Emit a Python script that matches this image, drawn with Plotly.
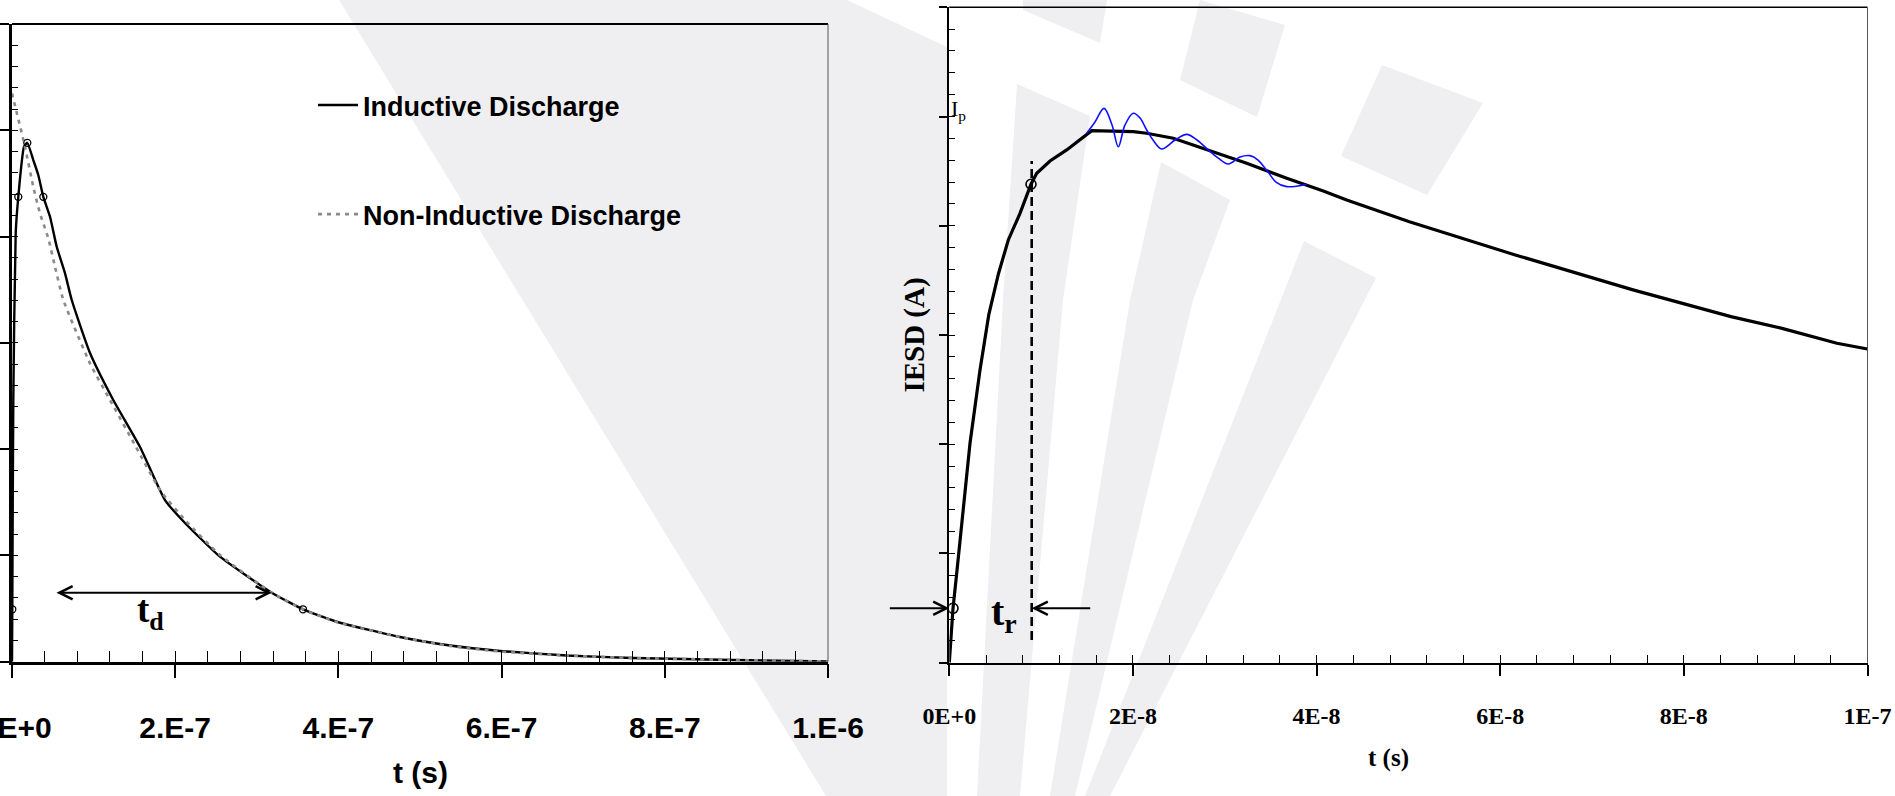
import plotly.graph_objects as go

FIG_W, FIG_H = 1895, 796

# ---------------- Left panel: inductive vs non-inductive discharge ----------------
# time in units of 1e-7 s, current in arbitrary axis units (0..6)
ind_t_e7 = [0, 0.0037, 0.0159, 0.0453, 0.0772, 0.147, 0.1875, 0.261, 0.322, 0.384,
            0.466, 0.548, 0.650, 0.732, 0.956, 1.241, 1.569, 1.875, 2.120, 2.549,
            3.183, 3.566, 3.979, 4.755, 5.368, 5.980, 6.798, 7.610, 8.836, 10.0]
ind_i = [0, 0.493, 2.462, 4.033, 4.374, 4.845, 4.882, 4.720, 4.579, 4.374,
         4.186, 3.904, 3.654, 3.403, 2.904, 2.462, 2.020, 1.521, 1.305, 0.988,
         0.649, 0.493, 0.376, 0.232, 0.152, 0.101, 0.058, 0.035, 0.016, 0.002]

non_t_e7 = [0, 0.159, 0.261, 0.343, 0.445, 0.527, 0.629, 0.956, 1.201, 1.520, 1.814,
            2.120, 2.549, 3.183, 3.566, 3.979, 4.755, 5.368, 5.980, 6.798, 7.610,
            8.836, 10.0]
non_i = [5.347, 4.845, 4.468, 4.218, 3.983, 3.716, 3.403, 2.807, 2.462, 2.020, 1.615,
         1.333, 1.004, 0.649, 0.493, 0.373, 0.232, 0.148, 0.096, 0.058, 0.035,
         0.016, 0.002]

ind_mark_t_e7 = [0.0037, 0.0772, 0.1875, 0.384, 3.566]
ind_mark_i = [0.493, 4.374, 4.882, 4.374, 0.493]

td_span_e7 = [0.527, 3.183]     # t_d arrow: start, end
td_level = 0.649
td_label_t_e7 = 1.70
td_label_i = 0.46

left_tickvals = [0, 2e-7, 4e-7, 6e-7, 8e-7, 1e-6]
left_ticktext = ["0.E+0", "2.E-7", "4.E-7", "6.E-7", "8.E-7", "1.E-6"]

# ---------------- Right panel: ESD current waveform ----------------
# time in units of 1e-8 s
esd_t_e8 = [0, 0.0261, 0.0403, 0.0806, 0.2254, 0.3344, 0.4302, 0.5347, 0.6426, 0.770,
            0.8898, 0.952, 1.0967, 1.2786, 1.5509, 2.0039, 2.1499, 2.4396, 2.8752,
            3.2390, 3.6746, 4.0732, 4.328, 5.011, 6.164, 7.446, 8.513, 9.069, 9.667, 10.0]
esd_i = [0, 0.269, 0.498, 0.818, 2.009, 2.680, 3.186, 3.559, 3.870, 4.114,
         4.380, 4.480, 4.593, 4.694, 4.870, 4.861, 4.847, 4.801, 4.678,
         4.572, 4.435, 4.318, 4.235, 4.037, 3.733, 3.413, 3.168, 3.061, 2.924, 2.872]

ring_t_e8 = [1.4964, 1.5868, 1.6848, 1.7720, 1.8406, 1.9135, 2.0039, 2.0769, 2.1499,
             2.2185, 2.3132, 2.4581, 2.5855, 2.6977, 2.8208, 2.9264, 3.0386, 3.1660,
             3.2749, 3.3620, 3.4709, 3.5580, 3.6746, 3.8924]
ring_i = [4.847, 4.950, 5.075, 4.923, 4.724, 4.923, 5.030, 4.987, 4.877,
          4.785, 4.703, 4.785, 4.837, 4.785, 4.694, 4.621, 4.566, 4.630,
          4.642, 4.602, 4.492, 4.400, 4.358, 4.380]

tr_mark_t_e8 = [0.0403, 0.8898]
tr_mark_i = [0.498, 4.380]
tr_line_t_e8 = 0.8974
tr_line_i = [0.208, 4.593]
tr_arrow_left_e8 = [-0.664, 0.0]      # tail, head
tr_arrow_right_e8 = [1.551, 0.8974]   # tail, head
tr_level = 0.498
tr_label_t_e8 = 0.60
tr_label_i = 0.45
ip_level = 5.06

right_tickvals = [0, 2e-8, 4e-8, 6e-8, 8e-8, 1e-7]
right_ticktext = ["0E+0", "2E-8", "4E-8", "6E-8", "8E-8", "1E-7"]

# ---------------- styling / layout helpers ----------------
SANS = "Liberation Sans, Arial, sans-serif"
SERIF = "Liberation Serif, Times New Roman, DejaVu Serif, serif"
WM_COLOR = "rgb(239,239,242)"


def px_x(p):
    return p / FIG_W


def px_y(p):
    return 1 - p / FIG_H


L_dom_x = [px_x(12), px_x(828)]
L_dom_y = [px_y(661.7), px_y(24)]
R_dom_x = [px_x(949.3), px_x(1867.5)]
R_dom_y = [px_y(662.7), px_y(7.3)]

fig = go.Figure()

# left panel curves
fig.add_trace(go.Scatter(x=[t * 1e-7 for t in ind_t_e7], y=ind_i, mode="lines",
                         name="Inductive Discharge", legendgroup="a", legendrank=1,
                         line=dict(color="black", width=2.4, shape="spline", smoothing=0.5),
                         xaxis="x", yaxis="y"))
fig.add_trace(go.Scatter(x=[t * 1e-7 for t in non_t_e7], y=non_i, mode="lines",
                         name="Non-Inductive Discharge", legendgroup="b", legendrank=2,
                         line=dict(color="#8a8a8a", width=2.6, dash="4px,5px",
                                   shape="spline", smoothing=0.5),
                         xaxis="x", yaxis="y"))
fig.add_trace(go.Scatter(x=[t * 1e-7 for t in ind_mark_t_e7], y=ind_mark_i, mode="markers",
                         showlegend=False,
                         marker=dict(symbol="circle-open", size=7, color="black",
                                     line=dict(width=1.3)),
                         xaxis="x", yaxis="y"))

# right panel curves
fig.add_trace(go.Scatter(x=[t * 1e-8 for t in esd_t_e8], y=esd_i, mode="lines",
                         showlegend=False, line=dict(color="black", width=3.2),
                         xaxis="x2", yaxis="y2"))
fig.add_trace(go.Scatter(x=[t * 1e-8 for t in ring_t_e8], y=ring_i, mode="lines",
                         showlegend=False,
                         line=dict(color="#1010ff", width=1.6, shape="spline", smoothing=1.0),
                         xaxis="x2", yaxis="y2"))
fig.add_trace(go.Scatter(x=[t * 1e-8 for t in tr_mark_t_e8], y=tr_mark_i, mode="markers",
                         showlegend=False,
                         marker=dict(symbol="circle-open", size=10, color="black",
                                     line=dict(width=1.6)),
                         xaxis="x2", yaxis="y2"))
fig.add_trace(go.Scatter(x=[tr_line_t_e8 * 1e-8] * 2, y=tr_line_i, mode="lines",
                         showlegend=False,
                         line=dict(color="black", width=2.6, dash="9px,5px"),
                         xaxis="x2", yaxis="y2"))

# empty traces so the overlay (inner tick) axes are drawn
for xa, ya in [("x3", "y"), ("x", "y3"), ("x4", "y2"), ("x2", "y4")]:
    fig.add_trace(go.Scatter(x=[None], y=[None], mode="lines", showlegend=False,
                             hoverinfo="skip", xaxis=xa, yaxis=ya))

axis_common = dict(showgrid=False, zeroline=False, showline=True, linecolor="black",
                   tickcolor="black", ticks="outside", ticklabeloverflow="allow")

layout = dict(
    width=FIG_W, height=FIG_H,
    margin=dict(l=0, r=0, t=0, b=0),
    paper_bgcolor="white", plot_bgcolor="rgba(0,0,0,0)",
    template="none",
    showlegend=True,
    legend=dict(x=px_x(313), y=px_y(81), xanchor="left", yanchor="top",
                bgcolor="rgba(0,0,0,0)", borderwidth=0, traceorder="grouped",
                tracegroupgap=71, itemwidth=40,
                font=dict(family=SANS, size=27, color="black", weight="bold")),
    xaxis=dict(axis_common, domain=L_dom_x, anchor="y", range=[0, 1e-6],
               tickmode="array", tickvals=left_tickvals, ticktext=left_ticktext,
               ticklen=14, tickwidth=1.5, linewidth=2.5,
               ticklabelstandoff=24,
               tickfont=dict(family=SANS, size=30, color="black", weight="bold")),
    xaxis3=dict(overlaying="x", anchor="y", range=[0, 1e-6], showgrid=False, zeroline=False,
                showline=False, tickmode="linear", tick0=0, dtick=4e-8, ticks="inside",
                ticklen=11, tickwidth=1.2, tickcolor="black", showticklabels=False),
    yaxis=dict(axis_common, domain=L_dom_y, anchor="x", range=[0, 6], tickmode="linear",
               tick0=0, dtick=1, ticklen=9, tickwidth=1.5, linewidth=2.5,
               showticklabels=False),
    yaxis3=dict(overlaying="y", anchor="x", side="left", range=[0, 6], showgrid=False,
                zeroline=False, showline=False, tickmode="linear", tick0=0, dtick=0.2,
                ticks="inside", ticklen=6, tickwidth=1.2, tickcolor="black",
                showticklabels=False),
    xaxis2=dict(axis_common, domain=R_dom_x, anchor="y2", range=[0, 1e-7],
                tickmode="array", tickvals=right_tickvals, ticktext=right_ticktext,
                ticklen=11, tickwidth=1.5, linewidth=2.2,
                ticklabelstandoff=19,
                tickfont=dict(family=SERIF, size=24, color="black", weight="bold")),
    xaxis4=dict(overlaying="x2", anchor="y2", range=[0, 1e-7], showgrid=False, zeroline=False,
                showline=False, tickmode="linear", tick0=0, dtick=4e-9, ticks="inside",
                ticklen=7.5, tickwidth=1.2, tickcolor="black", showticklabels=False),
    yaxis2=dict(axis_common, domain=R_dom_y, anchor="x2", range=[0, 6], tickmode="linear",
                tick0=0, dtick=1, ticklen=8, tickwidth=1.5, linewidth=2.2,
                showticklabels=False,
                title=dict(text="IESD (A)", standoff=6,
                           font=dict(family=SERIF, size=29, color="black", weight="bold"))),
    yaxis4=dict(overlaying="y2", anchor="x2", side="left", range=[0, 6], showgrid=False,
                zeroline=False, showline=False, tickmode="linear", tick0=0, dtick=0.2,
                ticks="inside", ticklen=5.5, tickwidth=1.2, tickcolor="black",
                showticklabels=False),
)
fig.update_layout(**layout)

# frame lines (top and right borders of both panels)
shapes = [
    dict(type="line", xref="x domain", yref="y domain", x0=0, x1=1, y0=1, y1=1,
         line=dict(color="black", width=2)),
    dict(type="line", xref="x domain", yref="y domain", x0=1, x1=1, y0=0, y1=1,
         line=dict(color="#555555", width=1)),
    dict(type="line", xref="x2 domain", yref="y2 domain", x0=0, x1=1, y0=1, y1=1,
         line=dict(color="black", width=1.6)),
    dict(type="line", xref="x2 domain", yref="y2 domain", x0=1, x1=1, y0=0, y1=1,
         line=dict(color="#555555", width=1)),
]

# light-grey background watermark (decorative polygons, in page pixels)
watermark = [
    [(339, 0), (847, 0), (947, 47), (947, 796), (826, 796)],
    [(1017, 84), (1090, 116), (1063, 300), (1020, 796), (977, 796), (1003, 300)],
    [(1161, 162), (1230, 200), (1193, 300), (1075, 796), (1050, 796), (1130, 300)],
    [(1304, 241), (1376, 278), (1110, 796), (1085, 796)],
    [(1023, 0), (1107, 0), (1100, 43), (1023, 10)],
    [(1200, 0), (1285, 25), (1257, 117), (1180, 80)],
    [(1382, 65), (1483, 103), (1427, 195), (1341, 156)],
]
for poly in watermark:
    path = "M " + " L ".join(f"{px_x(x):.5f},{px_y(y):.5f}" for x, y in poly) + " Z"
    shapes.append(dict(type="path", path=path, xref="paper", yref="paper", layer="below",
                       fillcolor=WM_COLOR, line=dict(width=0)))
fig.update_layout(shapes=shapes)

arrow_common = dict(showarrow=True, text="", arrowcolor="black", arrowwidth=2,
                    arrowhead=5, arrowsize=1.3, standoff=0, startstandoff=0)
annotations = [
    # t_d double arrow
    dict(arrow_common, x=td_span_e7[1] * 1e-7, y=td_level, ax=td_span_e7[0] * 1e-7,
         ay=td_level, xref="x", yref="y", axref="x", ayref="y",
         arrowside="end+start", startarrowhead=5, startarrowsize=1.3),
    dict(x=td_label_t_e7 * 1e-7, y=td_label_i, xref="x", yref="y", showarrow=False,
         xanchor="center", yanchor="middle",
         text="<b>t<sub>d</sub></b>", font=dict(family=SERIF, size=37, color="black")),
    # t_r arrows
    dict(arrow_common, x=tr_arrow_left_e8[1] * 1e-8, y=tr_level,
         ax=tr_arrow_left_e8[0] * 1e-8, ay=tr_level,
         xref="x2", yref="y2", axref="x2", ayref="y2"),
    dict(arrow_common, x=tr_arrow_right_e8[1] * 1e-8, y=tr_level,
         ax=tr_arrow_right_e8[0] * 1e-8, ay=tr_level,
         xref="x2", yref="y2", axref="x2", ayref="y2"),
    dict(x=tr_label_t_e8 * 1e-8, y=tr_label_i, xref="x2", yref="y2", showarrow=False,
         xanchor="center", yanchor="middle",
         text="<b>t<sub>r</sub></b>", font=dict(family=SERIF, size=40, color="black")),
    dict(x=0, y=ip_level, xref="x2", yref="y2", showarrow=False, xanchor="left",
         yanchor="middle",
         text="I<sub>p</sub>", font=dict(family=SERIF, size=22, color="black")),
    # axis titles for time
    dict(x=px_x(420), y=px_y(772), xref="paper", yref="paper", showarrow=False,
         xanchor="center", yanchor="middle",
         text="t (s)", font=dict(family=SANS, size=30, color="black", weight="bold")),
    dict(x=px_x(1388), y=px_y(758), xref="paper", yref="paper", showarrow=False,
         xanchor="center", yanchor="middle",
         text="t (s)", font=dict(family=SERIF, size=25, color="black", weight="bold")),
]
fig.update_layout(annotations=annotations)

# remove the default page margin so the figure sits at the window's top-left corner
fig.write_html("out.html",
               config={"displayModeBar": False},
               post_script="document.body.style.margin='0';"
                           "document.body.style.overflow='hidden';")
